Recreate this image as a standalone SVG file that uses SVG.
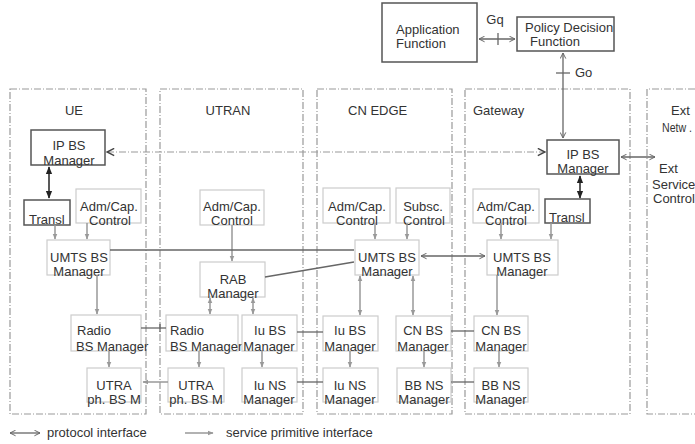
<svg xmlns="http://www.w3.org/2000/svg" width="695" height="444" viewBox="0 0 695 444">
<style>
text{font-family:"Liberation Sans",Arial,sans-serif;font-size:13px;fill:#333}
.dom{fill:none;stroke:#999;stroke-width:1.2;stroke-dasharray:7,2,1,2}
.bk{fill:#fff;stroke:#555;stroke-width:1.5}
.lt{fill:#fff;stroke:#ccc;stroke-width:1.2}
.sp{stroke:#999;stroke-width:1.5;fill:none}
.pr{stroke:#666;stroke-width:1.3;fill:none}
.c{text-anchor:middle}
</style>
<defs>
<marker id="ag" viewBox="0 0 10 10" refX="9" refY="5" markerWidth="6" markerHeight="6" orient="auto-start-reverse" markerUnits="userSpaceOnUse"><path d="M0,1 L10,5 L0,9 z" fill="#999"/></marker>
<marker id="ab" viewBox="0 0 10 10" refX="9" refY="5" markerWidth="8" markerHeight="8" orient="auto-start-reverse" markerUnits="userSpaceOnUse"><path d="M0,1 L10,5 L0,9 z" fill="#222"/></marker>
<marker id="ao" viewBox="0 0 10 10" refX="9" refY="5" markerWidth="9" markerHeight="9" orient="auto-start-reverse" markerUnits="userSpaceOnUse"><path d="M1,1 L9,5 L1,9" fill="none" stroke="#444" stroke-width="1.6"/></marker>
<marker id="ap" viewBox="0 0 10 10" refX="9" refY="5" markerWidth="7" markerHeight="7" orient="auto-start-reverse" markerUnits="userSpaceOnUse"><path d="M1,1 L9,5 L1,9" fill="none" stroke="#666" stroke-width="1.4"/></marker>
</defs>

<g id="domains">
<rect class="dom" x="10" y="89" width="136" height="325"/>
<rect class="dom" x="160" y="89" width="143" height="325"/>
<rect class="dom" x="317" y="89" width="135" height="325"/>
<rect class="dom" x="465" y="89" width="165" height="325"/>
<path class="dom" d="M695,89 H647 V414 H695"/>
<text class="c" x="74" y="115">UE</text>
<text class="c" x="228" y="115">UTRAN</text>
<text x="348" y="115">CN EDGE</text>
<text x="473" y="115">Gateway</text>
<text x="671" y="115">Ext</text>
<text x="662" y="132" style="font-size:12px" textLength="30" lengthAdjust="spacingAndGlyphs">Netw .</text>
<text x="659" y="173">Ext</text>
<text x="652" y="189">Service</text>
<text x="653" y="203">Control</text>
</g>

<g id="af"><rect class="bk" x="382" y="3" width="95" height="59"/><text x="396" y="34">Application</text><text x="396" y="48">Function</text></g>
<g id="pdf"><rect class="bk" x="517" y="17" width="97" height="34"/><text x="525" y="32">Policy Decision</text><text x="530" y="46">Function</text></g>

<g id="ue_ipbs"><rect class="bk" x="31" y="130" width="74" height="35"/><text class="c" x="69" y="150">IP BS</text><text class="c" x="69" y="165">Manager</text></g>
<g id="ue_transl"><rect class="bk" x="24" y="200" width="46" height="25"/><text x="29" y="224">Transl</text></g>
<g id="ue_adm"><rect class="lt" x="76" y="189" width="65" height="34"/><text class="c" x="109" y="211">Adm/Cap.</text><text class="c" x="110" y="225">Control</text></g>
<g id="ue_umts"><rect class="lt" x="47" y="240" width="63" height="35"/><text class="c" x="79" y="262">UMTS BS</text><text class="c" x="79" y="276">Manager</text></g>
<g id="ue_radio"><rect class="lt" x="71" y="315" width="70" height="36"/><text x="77" y="335">Radio</text><text x="76" y="351">BS Manager</text></g>
<g id="ue_utra"><rect class="lt" x="87" y="368" width="54" height="34"/><text class="c" x="114" y="390">UTRA</text><text class="c" x="114" y="404">ph. BS M</text></g>

<g id="utran_adm"><rect class="lt" x="200" y="190" width="64" height="35"/><text class="c" x="232" y="211">Adm/Cap.</text><text class="c" x="232" y="225">Control</text></g>
<g id="rab"><rect class="lt" x="200" y="262" width="65" height="35"/><text class="c" x="233" y="284">RAB</text><text class="c" x="233" y="298">Manager</text></g>
<g id="utran_radio"><rect class="lt" x="166" y="315" width="72" height="36"/><text x="170" y="335">Radio</text><text x="170" y="351">BS Manager</text></g>
<g id="utran_utra"><rect class="lt" x="168" y="368" width="56" height="34"/><text class="c" x="196" y="390">UTRA</text><text class="c" x="196" y="404">ph. BS M</text></g>
<g id="utran_iubs"><rect class="lt" x="242" y="315" width="55" height="36"/><text class="c" x="270" y="335">Iu BS</text><text class="c" x="269" y="351">Manager</text></g>
<g id="utran_iuns"><rect class="lt" x="242" y="368" width="55" height="34"/><text class="c" x="270" y="390">Iu NS</text><text class="c" x="269" y="404">Manager</text></g>

<g id="cn_adm"><rect class="lt" x="323" y="188" width="67" height="35"/><text class="c" x="357" y="211">Adm/Cap.</text><text class="c" x="357" y="225">Control</text></g>
<g id="cn_subsc"><rect class="lt" x="396" y="188" width="54" height="35"/><text class="c" x="423" y="211">Subsc.</text><text class="c" x="424" y="225">Control</text></g>
<g id="cn_umts"><rect class="lt" x="355" y="240" width="64" height="35"/><text class="c" x="387" y="262">UMTS BS</text><text class="c" x="387" y="276">Manager</text></g>
<g id="cn_iubs"><rect class="lt" x="323" y="316" width="55" height="35"/><text class="c" x="350" y="335">Iu BS</text><text class="c" x="350" y="351">Manager</text></g>
<g id="cn_iuns"><rect class="lt" x="323" y="368" width="55" height="34"/><text class="c" x="350" y="390">Iu NS</text><text class="c" x="350" y="404">Manager</text></g>
<g id="cn_cnbs"><rect class="lt" x="396" y="316" width="55" height="35"/><text class="c" x="423" y="335">CN BS</text><text class="c" x="423" y="351">Manager</text></g>
<g id="cn_bbns"><rect class="lt" x="397" y="368" width="54" height="34"/><text class="c" x="424" y="390">BB NS</text><text class="c" x="424" y="404">Manager</text></g>

<g id="gw_ipbs"><rect class="bk" x="547" y="140" width="72" height="34"/><text class="c" x="583" y="159">IP BS</text><text class="c" x="583" y="173">Manager</text></g>
<g id="gw_adm"><rect class="lt" x="473" y="189" width="66" height="34"/><text class="c" x="506" y="211">Adm/Cap.</text><text class="c" x="506" y="225">Control</text></g>
<g id="gw_transl"><rect class="bk" x="545" y="199" width="45" height="24"/><text x="549" y="222">Transl</text></g>
<g id="gw_umts"><rect class="lt" x="487" y="240" width="71" height="35"/><text class="c" x="522" y="262">UMTS BS</text><text class="c" x="522" y="276">Manager</text></g>
<g id="gw_cnbs"><rect class="lt" x="474" y="316" width="54" height="35"/><text class="c" x="501" y="335">CN BS</text><text class="c" x="501" y="351">Manager</text></g>
<g id="gw_bbns"><rect class="lt" x="474" y="368" width="54" height="34"/><text class="c" x="501" y="390">BB NS</text><text class="c" x="501" y="404">Manager</text></g>

<g id="connectors">
<line class="pr" x1="479" y1="39" x2="515" y2="39" marker-start="url(#ap)" marker-end="url(#ap)"/>
<line class="pr" x1="498" y1="33" x2="498" y2="45"/>
<text class="c" x="495" y="24">Gq</text>
<line class="pr" x1="563" y1="53" x2="563" y2="138" marker-start="url(#ap)" marker-end="url(#ap)"/>
<line class="pr" x1="556" y1="73" x2="570" y2="73"/>
<text x="575" y="77">Go</text>
<line x1="107" y1="152" x2="545" y2="152" stroke="#999" stroke-width="1.2" stroke-dasharray="7,2,1,2" marker-start="url(#ao)" marker-end="url(#ao)"/>
<line class="pr" x1="621" y1="157" x2="655" y2="157" marker-start="url(#ap)" marker-end="url(#ap)"/>
<line x1="49" y1="167" x2="49" y2="198" stroke="#222" stroke-width="1.5" marker-start="url(#ab)" marker-end="url(#ab)"/>
<line x1="580" y1="176" x2="580" y2="198" stroke="#222" stroke-width="1.5" marker-start="url(#ab)" marker-end="url(#ab)"/>
<line class="sp" x1="55" y1="225" x2="55" y2="239" marker-end="url(#ag)"/>
<line class="sp" x1="87" y1="223" x2="87" y2="239" marker-end="url(#ag)"/>
<line class="sp" x1="97" y1="275" x2="97" y2="314" marker-end="url(#ag)"/>
<line class="sp" x1="109" y1="351" x2="109" y2="367" marker-end="url(#ag)"/>
<line class="sp" x1="232" y1="225" x2="232" y2="261" marker-end="url(#ag)"/>
<line class="sp" x1="210" y1="298" x2="210" y2="314" marker-start="url(#ag)" marker-end="url(#ag)"/>
<line class="sp" x1="253" y1="298" x2="253" y2="314" marker-start="url(#ag)" marker-end="url(#ag)"/>
<line class="sp" x1="199" y1="351" x2="199" y2="367" marker-end="url(#ag)"/>
<line class="sp" x1="262" y1="351" x2="262" y2="367" marker-end="url(#ag)"/>
<line class="sp" x1="375" y1="223" x2="375" y2="239" marker-end="url(#ag)"/>
<line class="sp" x1="407" y1="223" x2="407" y2="239" marker-end="url(#ag)"/>
<line class="sp" x1="360" y1="276" x2="360" y2="315" marker-start="url(#ag)" marker-end="url(#ag)"/>
<line class="sp" x1="413" y1="276" x2="413" y2="315" marker-start="url(#ag)" marker-end="url(#ag)"/>
<line class="sp" x1="350" y1="351" x2="350" y2="367" marker-end="url(#ag)"/>
<line class="sp" x1="424" y1="351" x2="424" y2="367" marker-end="url(#ag)"/>
<line class="sp" x1="501" y1="223" x2="501" y2="239" marker-end="url(#ag)"/>
<line class="sp" x1="551" y1="223" x2="551" y2="239" marker-end="url(#ag)"/>
<line class="sp" x1="497" y1="275" x2="497" y2="315" marker-end="url(#ag)"/>
<line class="sp" x1="499" y1="351" x2="499" y2="367" marker-end="url(#ag)"/>
<line class="pr" x1="110" y1="250" x2="354" y2="250"/>
<line class="pr" x1="265" y1="277" x2="354" y2="262"/>
<line class="pr" x1="421" y1="256" x2="485" y2="256" marker-start="url(#ap)" marker-end="url(#ap)"/>
<line class="pr" x1="141" y1="328" x2="166" y2="328"/>
<line class="pr" x1="160" y1="324" x2="160" y2="332"/>
<line class="sp" x1="143" y1="382" x2="168" y2="382" marker-start="url(#ag)"/>
<line class="pr" x1="297" y1="332" x2="323" y2="332"/>
<line class="pr" x1="297" y1="382" x2="323" y2="382"/>
<line class="pr" x1="451" y1="331" x2="474" y2="331"/>
<line class="pr" x1="451" y1="382" x2="474" y2="382"/>
</g>

<g id="legend">
<line class="pr" x1="10" y1="433" x2="40" y2="433" marker-start="url(#ap)" marker-end="url(#ap)"/>
<text x="47" y="437">protocol interface</text>
<line class="sp" x1="185" y1="433" x2="213" y2="433" marker-end="url(#ag)"/>
<text x="226" y="437">service primitive interface</text>
</g>
</svg>
